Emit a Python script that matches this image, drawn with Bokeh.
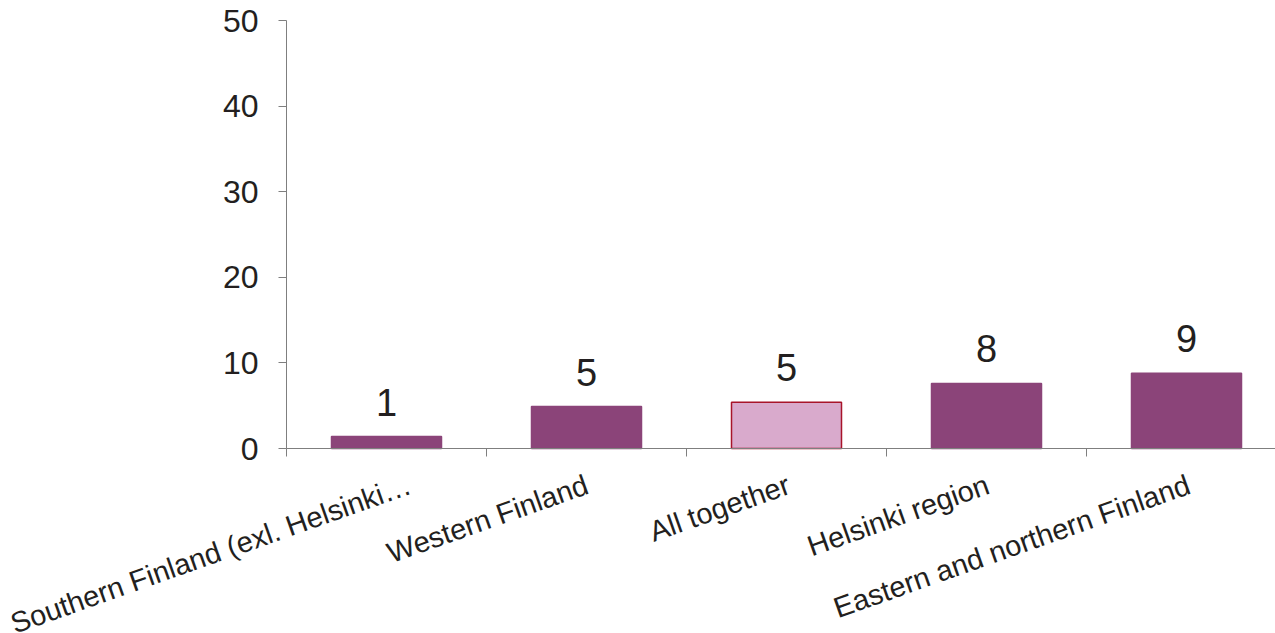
from bokeh.plotting import figure
from bokeh.models import ColumnDataSource, Range1d, FixedTicker, LabelSet
from bokeh.core.properties import value
from bokeh.embed import file_html
from bokeh.resources import INLINE

categories = ["Southern Finland (exl. Helsinki…", "Western Finland", "All together",
              "Helsinki region", "Eastern and northern Finland"]
values = [1.4, 4.9, 5.4, 7.6, 8.8]
value_labels = ["1", "5", "5", "8", "9"]
fill_colors = ["#8B4479", "#8B4479", "#D9AACC", "#8B4479", "#8B4479"]
line_colors = ["#8B4479", "#8B4479", "#A8142A", "#8B4479", "#8B4479"]
y_ticks = [0, 10, 20, 30, 40, 50]

# layout only: horizontal nudge (px) of each rotated category label
label_dx = [18, -5, -3, -4, -3]

n = len(categories)
xpos = [i + 0.5 for i in range(n)]
src = ColumnDataSource(dict(x=xpos, top=values, lab=value_labels, cat=categories,
                            base=[0] * n, dx=label_dx, fill=fill_colors, line=line_colors))

font = "Liberation Sans"
txt = "#231F20"
axc = "#7F7F7F"

W, H = 1275, 633
p = figure(width=W, height=H, output_backend="svg", toolbar_location=None,
           x_range=Range1d(-1.43, 4.945), y_range=Range1d(-21.61, 52.34),
           min_border_left=0, min_border_right=0, min_border_top=0, min_border_bottom=0)
p.outline_line_color = None
p.xgrid.visible = False
p.ygrid.visible = False

p.vbar(x="x", top="top", bottom=0, width=0.55, source=src,
       fill_color="fill", line_color="line", line_width=1.5)

p.add_layout(LabelSet(x="x", y="top", text="lab", source=src, text_align="center",
                      text_baseline="alphabetic", y_offset=21, text_font_size="38px",
                      text_font=value(font), text_color=txt))

# category labels, rotated, anchored at their top-right below each bar
p.add_layout(LabelSet(x="x", y="base", text="cat", source=src, text_align="right",
                      text_baseline="top", y_offset=-20, x_offset="dx", angle=0.34,
                      text_font_size="29px", text_font=value(font), text_color=txt))

ax = p.xaxis[0]
ax.fixed_location = 0
ax.bounds = (0, 4.945)
ax.ticker = FixedTicker(ticks=list(range(n)))
ax.major_label_overrides = {i: "" for i in range(n)}
ax.major_label_text_font_size = "1px"
ax.major_label_standoff = 0
ax.major_tick_out = 8
ax.major_tick_in = 0
ax.minor_tick_out = 0
ax.minor_tick_in = 0
ax.major_tick_line_color = axc
ax.axis_line_color = axc

ay = p.yaxis[0]
ay.fixed_location = 0
ay.ticker = FixedTicker(ticks=y_ticks)
ay.bounds = (0, 50)
ay.major_tick_out = 8
ay.major_tick_in = 0
ay.minor_tick_out = 0
ay.minor_tick_in = 0
ay.major_tick_line_color = axc
ay.axis_line_color = axc
ay.major_label_text_font = font
ay.major_label_text_font_size = "32px"
ay.major_label_text_color = txt
ay.major_label_standoff = 20

open("out.html", "w").write(file_html(p, INLINE))
